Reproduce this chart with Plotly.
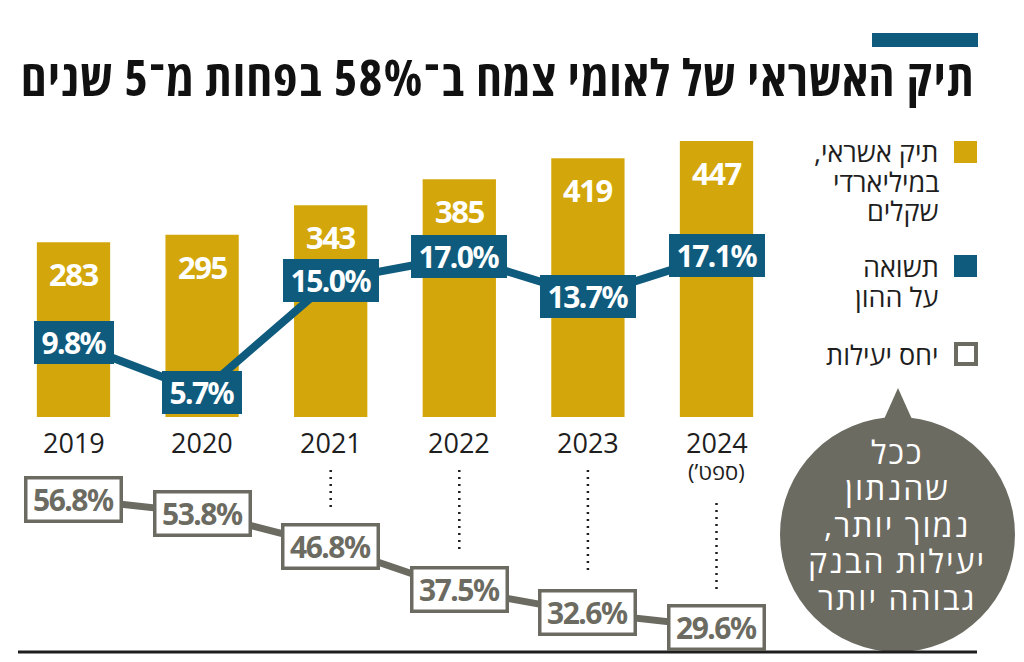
import plotly.graph_objects as go

W, H = 1024, 662

# ---------------- data ----------------
years = ["2019", "2020", "2021", "2022", "2023", "2024"]
year_notes = ["", "", "", "", "", "(’ספט)"]
credit = [283, 295, 343, 385, 419, 447]           # תיק אשראי, במיליארדי שקלים
roe = [9.8, 5.7, 15.0, 17.0, 13.7, 17.1]          # תשואה על ההון, %
eff = [56.8, 53.8, 46.8, 37.5, 32.6, 29.6]         # יחס יעילות, %
dotted_from = [None, None, 470, 470, 470, 503]     # dotted guide start (px) per year

RLM = "\u200f"
title_text = "תיק האשראי של לאומי צמח ב־58% בפחות מ־5 שנים"
legend_credit = ["תיק אשראי," + RLM, "במיליארדי", "שקלים"]
legend_roe = ["תשואה", "על ההון"]
legend_eff = ["יחס יעילות"]
bubble_lines = ["ככל", "שהנתון", "נמוך יותר," + RLM, "יעילות הבנק", "גבוהה יותר"]

# ---------------- style ----------------
GOLD = "#d3a70b"
BLUE = "#0f5b7e"
GRAY = "#6c6b62"
DARK = "#1e1e1e"
NUM_FONT = "Noto Sans, Roboto, sans-serif"
HEB_FONT = "Open Sans, DejaVu Sans, Liberation Sans, sans-serif"
NUM_COND = '<span style="font-stretch:condensed;letter-spacing:-1.5px">{}</span>'
TITLE_COND = '<span style="font-stretch:condensed;letter-spacing:1.6px">{}</span>'
BUBBLE_SP = '<span style="letter-spacing:2px">{}</span>'

X0_PX, X_STEP = 73.5, 128.6          # category centre / spacing in px


def yrange(v0, p0, v1, p1):
    """axis range over the full plot height such that value v0 sits at px p0, v1 at p1"""
    k = (p1 - p0) / (v1 - v0)
    return [v0 + (H - p0) / k, v0 + (0 - p0) / k]


def to_px(val, rng):
    lo, hi = rng
    return H - (val - lo) / (hi - lo) * H


def pp(px):  # pixel (from top) -> paper y
    return 1 - px / H


def px_x(px):  # pixel -> paper x
    return px / W


bar_rng = yrange(0, 417, 447, 141)
roe_rng = yrange(5.7, 392, 17.1, 255.5)
eff_rng = yrange(56.8, 499, 29.6, 627)
x_rng = [(0 - X0_PX) / X_STEP, (W - X0_PX) / X_STEP]

idx = list(range(len(years)))

fig = go.Figure()
fig.add_trace(go.Bar(x=idx, y=credit, width=0.57, marker=dict(color=GOLD, line=dict(width=0)),
                     hoverinfo="skip", yaxis="y"))
fig.add_trace(go.Scatter(x=idx, y=roe, mode="lines", line=dict(color=BLUE, width=8),
                         hoverinfo="skip", yaxis="y2"))
fig.add_trace(go.Scatter(x=idx, y=eff, mode="lines", line=dict(color=GRAY, width=7),
                         hoverinfo="skip", yaxis="y3"))

ann = []
shapes = []

# bar value labels
for i, v in enumerate(credit):
    ann.append(dict(x=i, y=v, xref="x", yref="y", yshift=-32, text=NUM_COND.format(f"<b>{v}</b>"),
                    showarrow=False, xanchor="center", yanchor="middle",
                    font=dict(family=NUM_FONT, size=31, color="white")))

# ROE boxes
for i, v in enumerate(roe):
    lab = f"{v:.1f}%"
    ann.append(dict(x=i, y=v, xref="x", yref="y2", text=NUM_COND.format(f"<b>{lab}</b>"), showarrow=False,
                    xanchor="center", yanchor="middle",
                    bgcolor=BLUE, borderpad=0, borderwidth=0, width=16 * len(lab) + 16, height=43,
                    font=dict(family=NUM_FONT, size=30, color="white")))

# efficiency boxes
for i, v in enumerate(eff):
    lab = f"{v:.1f}%"
    ann.append(dict(x=i, y=v, xref="x", yref="y3", text=NUM_COND.format(f"<b>{lab}</b>"), showarrow=False,
                    xanchor="center", yanchor="middle",
                    bgcolor="white", bordercolor=GRAY, borderwidth=3.5, borderpad=0,
                    width=92, height=40,
                    font=dict(family=NUM_FONT, size=30, color=GRAY)))

# year labels
for i, y in enumerate(years):
    ann.append(dict(x=i, y=pp(442), xref="x", yref="paper", text=y, showarrow=False,
                    xanchor="center", yanchor="middle",
                    font=dict(family=HEB_FONT, size=27, color=DARK)))
    if year_notes[i]:
        ann.append(dict(x=i, y=pp(471), xref="x", yref="paper", text=year_notes[i], showarrow=False,
                        xanchor="center", yanchor="middle",
                        font=dict(family=HEB_FONT, size=22, color=DARK)))

# dotted guides from year label down to efficiency box
for i, v in enumerate(eff):
    if dotted_from[i] is None:
        continue
    box_top = to_px(v, eff_rng) - 24
    shapes.append(dict(type="line", xref="x", yref="paper", x0=i, x1=i,
                       y0=pp(dotted_from[i]), y1=pp(box_top - 14),
                       line=dict(color=DARK, width=2.5, dash="2px,5px")))

# title and accent bar
shapes.append(dict(type="rect", xref="paper", yref="paper", x0=px_x(872), x1=px_x(978),
                   y0=pp(47), y1=pp(33), fillcolor=BLUE, line=dict(width=0)))
ann.append(dict(x=px_x(977), y=pp(77), xref="paper", yref="paper", xanchor="right", yanchor="middle",
                text=TITLE_COND.format(f"<b>{title_text}</b>"), showarrow=False,
                font=dict(family=HEB_FONT, size=50, color="#111111", weight=800)))


# legend
def legend_block(sq_top, lines, fill, outline=None, first_y=None):
    if outline:
        shapes.append(dict(type="rect", xref="paper", yref="paper", x0=px_x(956), x1=px_x(976),
                           y0=pp(sq_top + 22), y1=pp(sq_top + 2), fillcolor="white",
                           line=dict(color=outline, width=4)))
    else:
        shapes.append(dict(type="rect", xref="paper", yref="paper", x0=px_x(954), x1=px_x(977),
                           y0=pp(sq_top + 22), y1=pp(sq_top), fillcolor=fill, line=dict(width=0)))
    for j, t in enumerate(lines):
        ann.append(dict(x=px_x(941), y=pp(first_y + 29 * j), xref="paper", yref="paper",
                        xanchor="right", yanchor="middle", text=t, showarrow=False,
                        font=dict(family=HEB_FONT, size=27, color=DARK)))


legend_block(141, legend_credit, GOLD, first_y=152)
legend_block(255, legend_roe, BLUE, first_y=267)
legend_block(342, legend_eff, None, outline=GRAY, first_y=354)

# speech bubble
cx, cy, r = 897.5, 534.5, 117.5
shapes.append(dict(type="path", xref="paper", yref="paper",
                   path=f"M {px_x(898)},{pp(388)} L {px_x(868)},{pp(455)} L {px_x(928)},{pp(455)} Z",
                   fillcolor=GRAY, line=dict(width=0)))
shapes.append(dict(type="circle", xref="paper", yref="paper", x0=px_x(cx - r), x1=px_x(cx + r),
                   y0=pp(cy + r), y1=pp(cy - r), fillcolor=GRAY, line=dict(width=0)))
for j, t in enumerate(bubble_lines):
    ann.append(dict(x=px_x(897), y=pp(451 + 36.5 * j), xref="paper", yref="paper",
                    xanchor="center", yanchor="middle",
                    text=BUBBLE_SP.format(t), showarrow=False,
                    font=dict(family=HEB_FONT, size=32, color="white")))

# bottom rule
shapes.append(dict(type="line", xref="paper", yref="paper", x0=px_x(18), x1=px_x(977),
                   y0=pp(652), y1=pp(652), line=dict(color=DARK, width=3)))

ax = dict(visible=False, fixedrange=True, showgrid=False, zeroline=False)
fig.update_layout(
    width=W, height=H, margin=dict(l=0, r=0, t=0, b=0),
    paper_bgcolor="white", plot_bgcolor="white", showlegend=False,
    xaxis=dict(ax, range=x_rng, domain=[0, 1]),
    yaxis=dict(ax, range=bar_rng, domain=[0, 1]),
    yaxis2=dict(ax, range=roe_rng, overlaying="y"),
    yaxis3=dict(ax, range=eff_rng, overlaying="y"),
    annotations=ann, shapes=shapes,
)

fig.write_html("out.html", config={"displayModeBar": False},
               post_script="document.body.style.margin='0px';")
